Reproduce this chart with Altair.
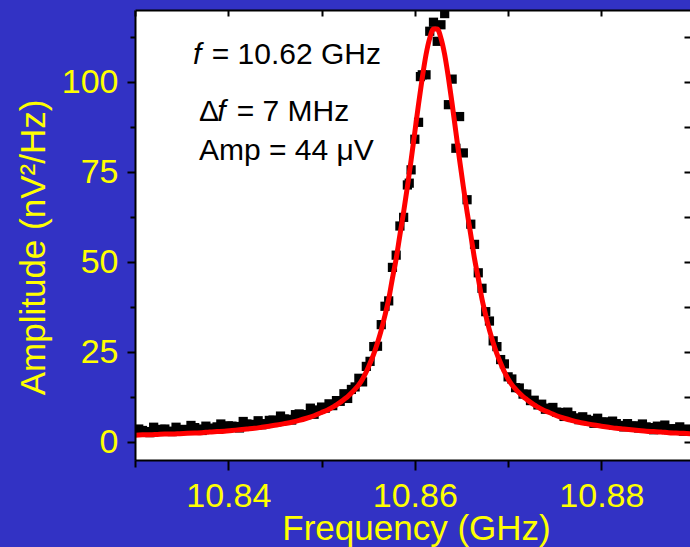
import altair as alt
import pandas as pd

# ---------------- data ----------------
freq = [
    10.8300, 10.8308, 10.8316, 10.8324, 10.8332, 10.8340, 10.8348, 10.8356, 10.8364, 10.8372,
    10.8380, 10.8388, 10.8396, 10.8404, 10.8412, 10.8420, 10.8428, 10.8436, 10.8444, 10.8452,
    10.8460, 10.8468, 10.8476, 10.8484, 10.8492, 10.8500,
    10.8504, 10.8508, 10.8512, 10.8516, 10.8520, 10.8524, 10.8528, 10.8532, 10.8536, 10.8540,
    10.8544, 10.8548, 10.8552, 10.8556, 10.8560, 10.8564, 10.8568, 10.8572, 10.8576, 10.8580,
    10.8584, 10.8588, 10.8592, 10.8596, 10.8600, 10.8604, 10.8608, 10.8612, 10.8616, 10.8620,
    10.8624, 10.8628, 10.8632, 10.8636, 10.8640, 10.8644, 10.8648, 10.8652, 10.8656, 10.8660,
    10.8664, 10.8668, 10.8672, 10.8676, 10.8680, 10.8684, 10.8688, 10.8692, 10.8696, 10.8700,
    10.8704, 10.8708, 10.8712, 10.8716, 10.8720, 10.8724, 10.8728, 10.8732, 10.8736, 10.8740,
    10.8744,
    10.8752, 10.8760, 10.8768, 10.8776, 10.8784, 10.8792, 10.8800, 10.8808, 10.8816, 10.8824,
    10.8832, 10.8840, 10.8848, 10.8856, 10.8864, 10.8872, 10.8880, 10.8888, 10.8896,
]

fit_amp = [
    1.9, 2.0, 2.0, 2.1, 2.2, 2.2, 2.3, 2.4, 2.5, 2.6,
    2.8, 2.9, 3.0, 3.2, 3.4, 3.6, 3.8, 4.1, 4.4, 4.7,
    5.1, 5.5, 6.0, 6.6, 7.3, 8.2,
    8.6, 9.1, 9.7, 10.3, 11.0, 11.8, 12.6, 13.6, 14.7, 15.9,
    17.5, 19.5, 21.9, 24.5, 27.6, 31.1, 35.2, 39.7, 45.5, 50.9,
    57.5, 63.9, 70.9, 78.3, 86.1, 93.9, 101.2, 107.6, 112.2, 114.7,
    114.7, 112.2, 107.6, 101.2, 93.9, 86.1, 78.3, 70.9, 63.9, 57.5,
    50.9, 45.5, 39.7, 35.2, 31.1, 27.6, 24.5, 21.9, 19.5, 17.5,
    15.9, 14.7, 13.6, 12.6, 11.8, 11.0, 10.3, 9.7, 9.1, 8.6,
    8.2,
    7.3, 6.6, 6.0, 5.5, 5.1, 4.7, 4.4, 4.1, 3.8, 3.6,
    3.4, 3.2, 3.0, 2.9, 2.8, 2.6, 2.5, 2.4, 2.3,
]

data_amp = [
    2.7, 3.2, 2.6, 3.1, 3.6, 2.9, 3.4, 3.3, 4.0, 3.2,
    3.8, 4.2, 3.8, 4.4, 3.9, 5.0, 4.8, 4.8, 6.0, 5.6,
    6.4, 6.1, 7.8, 7.6, 7.7, 9.7,
    9.4, 10.6, 10.1, 11.5, 11.3, 13.4, 12.1, 14.6, 15.3, 17.7,
    16.7, 21.0, 22.4, 26.5, 26.6, 32.6, 37.7, 39.2, 48.5, 51.9,
    60.0, 62.4, 71.4, 75.6, 84.1, 88.8, 102.0, 102.0, 114.1, 116.6,
    111.3, 115.9, 119.0, 93.7, 100.8, 81.6, 90.4, 80.3, 67.3, 60.5,
    54.9, 47.0, 42.7, 36.2, 33.6, 28.1, 26.5, 22.9, 21.7, 18.1,
    17.5, 15.1, 15.0, 13.3, 13.3, 11.5, 11.6, 10.3, 10.5, 9.1,
    9.4,
    8.3, 7.1, 7.3, 6.2, 6.3, 5.2, 5.5, 4.9, 5.1, 4.2,
    4.4, 3.9, 4.2, 3.4, 3.8, 3.4, 3.6, 3.0, 3.2,
]

# additional measured points (tails in between the grid, plus two near the peak)
extra_freq = [
    10.8594, 10.8606,
    10.8304, 10.8312, 10.8320, 10.8328, 10.8336, 10.8344, 10.8352, 10.8360, 10.8368, 10.8376,
    10.8384, 10.8392, 10.8400, 10.8408, 10.8416, 10.8424, 10.8432, 10.8440, 10.8448, 10.8456,
    10.8464, 10.8472, 10.8480, 10.8488, 10.8496,
    10.8748, 10.8756, 10.8764, 10.8772, 10.8780, 10.8788, 10.8796, 10.8804, 10.8812, 10.8820,
    10.8828, 10.8836, 10.8844, 10.8852, 10.8860, 10.8868, 10.8876, 10.8884, 10.8892,
]
extra_amp = [
    71.9, 101.5,
    3.6, 2.9, 4.1, 3.5, 3.0, 4.1, 3.5, 4.6, 3.6, 4.4,
    3.8, 5.0, 4.5, 4.3, 5.7, 4.9, 5.9, 5.1, 6.1, 7.2,
    6.3, 7.6, 7.5, 9.4, 8.9,
    9.6, 8.2, 8.3, 6.7, 7.0, 6.0, 6.6, 5.6, 5.8, 4.6,
    5.1, 4.5, 5.0, 4.0, 4.4, 4.7, 3.7, 4.2, 3.6,
]

x_ticks = [10.83, 10.84, 10.85, 10.86, 10.87, 10.88]
y_ticks = [0, 12.5, 25, 37.5, 50, 62.5, 75, 87.5, 100, 112.5]

ann_text = ["f", "= 10.62 GHz", "\u0394", "f", "= 7 MHz", "Amp = 44 \u03bcV"]
ann_x = [10.83622, 10.83822, 10.83686, 10.83882, 10.84090, 10.83686]
ann_y = [105.0, 105.0, 89.25, 89.25, 89.25, 78.33]
ann_italic = [True, False, False, True, False, False]

# ---------------- tables ----------------
df_fit = pd.DataFrame({"freq": freq, "amp": fit_amp})
df_pts = pd.DataFrame({"freq": freq + extra_freq, "amp": data_amp + extra_amp})
df_ann = pd.DataFrame({"x": ann_x, "y": ann_y, "text": ann_text, "italic": ann_italic})

YELLOW = "#ffff00"
FONT = "Liberation Sans"

xscale = alt.Scale(domain=[10.83, 10.8895], nice=False, zero=False)
yscale = alt.Scale(domain=[-5, 120], nice=False, zero=False)

bottom_axis = alt.Axis(
    orient="bottom",
    values=x_ticks,
    labelExpr="indexof(['10.84','10.86','10.88'], format(datum.value, '.2f')) >= 0 ? format(datum.value, '.2f') : ''",
    tickSize={"condition": {"test": "round(datum.value * 100) % 2 == 0", "value": 10}, "value": 7},
    tickColor="black",
    tickWidth=2,
    domainColor="black",
    domainWidth=2,
    grid=False,
    labelColor=YELLOW,
    labelFont=FONT,
    labelFontSize=34,
    labelBaseline="alphabetic",
    labelPadding=36,
    labelFlush=False,
    labelOverlap=False,
    title="Frequency (GHz)",
    titleColor=YELLOW,
    titleFont=FONT,
    titleFontSize=35,
    titleFontWeight="normal",
    titleBaseline="alphabetic",
    titleX=281,
    titleY=79,
    zindex=1,
)

left_axis = alt.Axis(
    orient="left",
    values=y_ticks,
    labelExpr="datum.value % 25 == 0 ? datum.label : ''",
    tickSize={"condition": {"test": "datum.value % 25 == 0", "value": 8}, "value": 5},
    tickColor="black",
    tickWidth=2,
    domainColor="black",
    domainWidth=2,
    grid=False,
    labelColor=YELLOW,
    labelFont=FONT,
    labelFontSize=34,
    labelBaseline="middle",
    labelPadding=9,
    labelOverlap=False,
    labelFlush=False,
    title="Amplitude (nV\u00b2/Hz)",
    titleColor=YELLOW,
    titleFont=FONT,
    titleFontSize=35,
    titleFontWeight="normal",
    titleBaseline="alphabetic",
    titleX=-91,
    titleY=237,
    zindex=1,
)

top_axis = alt.Axis(
    orient="top",
    values=x_ticks,
    labels=False,
    tickSize=alt.ExprRef(expr="-6"),
    tickColor="black",
    tickWidth=2,
    domainColor="black",
    domainWidth=2,
    grid=False,
    title=None,
    zindex=1,
)

right_axis = alt.Axis(
    orient="right",
    values=y_ticks,
    labels=False,
    tickSize=alt.ExprRef(expr="-6"),
    tickColor="black",
    tickWidth=2,
    domain=False,
    grid=False,
    title=None,
    zindex=1,
)

points = alt.Chart(df_pts).mark_square(size=85, color="black", opacity=1, clip=True).encode(
    x=alt.X("freq:Q", scale=xscale, axis=bottom_axis),
    y=alt.Y("amp:Q", scale=yscale, axis=left_axis),
)

fit = alt.Chart(df_fit).mark_line(color="#ff0000", strokeWidth=5, clip=True, interpolate="monotone").encode(
    x=alt.X("freq:Q", scale=xscale, axis=top_axis),
    y=alt.Y("amp:Q", scale=yscale, axis=right_axis),
)

text_normal = alt.Chart(df_ann).transform_filter("!datum.italic").mark_text(
    align="left", baseline="alphabetic", font=FONT, fontSize=30, color="black"
).encode(
    x=alt.X("x:Q", scale=xscale, axis=None),
    y=alt.Y("y:Q", scale=yscale, axis=None),
    text="text:N",
)

text_italic = alt.Chart(df_ann).transform_filter("datum.italic").mark_text(
    align="left", baseline="alphabetic", font=FONT, fontSize=30, fontStyle="italic", color="black"
).encode(
    x=alt.X("x:Q", scale=xscale, axis=None),
    y=alt.Y("y:Q", scale=yscale, axis=None),
    text="text:N",
)

chart = (
    alt.layer(points, fit, text_normal, text_italic)
    .resolve_axis(x="independent", y="independent")
    .properties(
        width=555,
        height=450,
        background="#3232c4",
        padding={"left": 135, "top": 10, "right": 0, "bottom": 87},
        autosize=alt.AutoSizeParams(type="none"),
    )
    .configure_view(stroke=None, fill="white")
)

chart.save("out.html", embed_options={"renderer": "svg", "actions": False})
